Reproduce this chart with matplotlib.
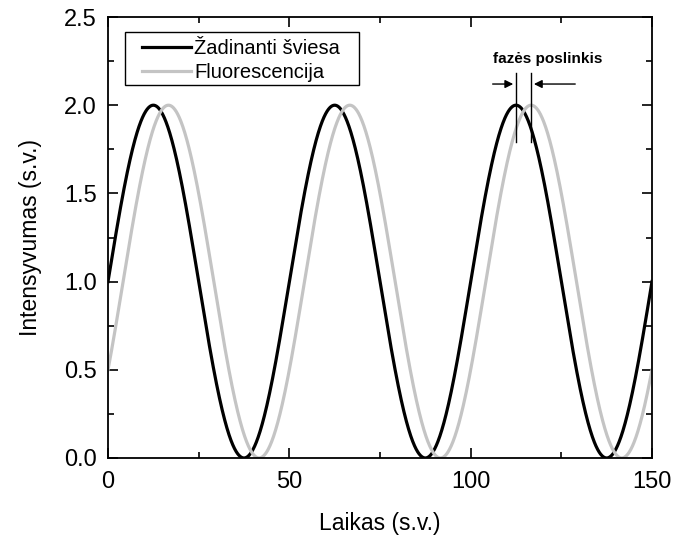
import numpy as np
import matplotlib
matplotlib.use("Agg")
import matplotlib.pyplot as plt
from matplotlib.patches import Rectangle
from matplotlib.ticker import MultipleLocator, FormatStrFormatter

plt.rcParams['font.family'] = ['Liberation Sans', 'DejaVu Sans']

# Signal parameters
period = 50.0
offset = 1.0
amplitude = 1.0
phase_shift = period / 12.0  # fluorescence lag
t_max = 150.0

t = np.linspace(0, t_max, 2001)
excitation = offset + amplitude * np.sin(2 * np.pi * t / period)
fluorescence = offset + amplitude * np.sin(2 * np.pi * (t - phase_shift) / period)

fig = plt.figure(figsize=(6.75, 5.35), dpi=100)
ax = fig.add_axes([108 / 675, 1 - 458 / 535, 544 / 675, 441 / 535])

ax.plot(t, excitation, color='black', lw=2.3, label='Žadinanti šviesa')
ax.plot(t, fluorescence, color='#c4c4c4', lw=2.3, label='Fluorescencija')

ax.set_xlim(0, 150)
ax.set_ylim(0, 2.5)
ax.xaxis.set_major_locator(MultipleLocator(50))
ax.xaxis.set_minor_locator(MultipleLocator(25))
ax.yaxis.set_major_locator(MultipleLocator(0.5))
ax.yaxis.set_minor_locator(MultipleLocator(0.25))
ax.yaxis.set_major_formatter(FormatStrFormatter('%.1f'))
ax.tick_params(which='both', direction='in', top=True, right=True, width=1.2)
ax.tick_params(which='major', length=7, labelsize=17)
ax.tick_params(axis='x', which='major', pad=9)
ax.tick_params(axis='y', which='major', pad=8)
ax.tick_params(which='minor', length=4.5)
for s in ax.spines.values():
    s.set_linewidth(1.3)

ax.set_xlabel('Laikas (s.v.)', fontsize=16.5, labelpad=14)
ax.set_ylabel('Intensyvumas (s.v.)', fontsize=16.5, labelpad=16)

# Legend entries without their own frame; a wider box is drawn around them
leg = ax.legend(loc='upper left', bbox_to_anchor=(0.0625, 0.9505), fontsize=14.5,
                frameon=False, handlelength=2.45, borderpad=0, labelspacing=0.25,
                handletextpad=0.15, borderaxespad=0)
frame = Rectangle((0.031, 0.846), 0.430, 0.120, transform=ax.transAxes,
                  fill=False, edgecolor='black', lw=1.0, zorder=5)
ax.add_patch(frame)

# Phase-shift marker at the third peak
peak_black = 2.25 * period
peak_grey = peak_black + phase_shift
for xp in (peak_black, peak_grey):
    ax.plot([xp, xp], [1.79, 2.18], color='black', lw=1.0)
ax.annotate('', xy=(peak_black, 2.12), xytext=(105.3, 2.12),
            arrowprops=dict(arrowstyle='-|>', color='black', lw=1.0, mutation_scale=12))
ax.annotate('', xy=(peak_grey, 2.12), xytext=(129.6, 2.12),
            arrowprops=dict(arrowstyle='-|>', color='black', lw=1.0, mutation_scale=12))
ax.text(121.3, 2.26, 'fazės poslinkis', fontsize=11, fontweight='bold',
        ha='center', va='center')

fig.savefig('out.png', dpi=100)
